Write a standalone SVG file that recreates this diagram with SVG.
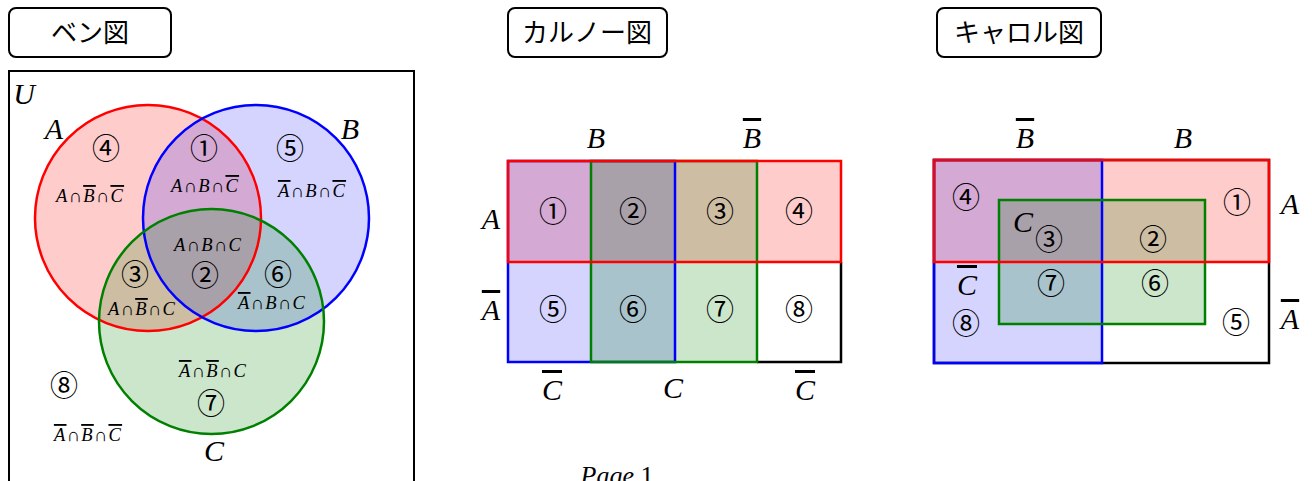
<svg xmlns="http://www.w3.org/2000/svg" width="1312" height="481" viewBox="0 0 1312 481">
<style>
.title{fill:#fff;stroke:#000;stroke-width:2}
.tt{font-family:"Noto Sans CJK JP",sans-serif;font-size:26px;text-anchor:middle;fill:#000}
.m{font-family:"Liberation Serif","DejaVu Serif",serif;font-style:italic;font-size:30px;text-anchor:middle;fill:#000}
.s{font-family:"Liberation Serif","DejaVu Serif",serif;font-style:italic;font-size:18.5px;letter-spacing:1.3px;text-anchor:middle;fill:#000}
.n{font-family:"Noto Sans CJK JP",sans-serif;font-size:28px;text-anchor:middle;fill:#000}
.ol{text-decoration:overline}
.fr{fill:#ff0000;fill-opacity:0.2}
.fb{fill:#0000ff;fill-opacity:0.17}
.fg{fill:#008000;fill-opacity:0.2}
.sr{fill:none;stroke:#ff0000;stroke-width:2.5}
.sb{fill:none;stroke:#0000ff;stroke-width:2.5}
.sg{fill:none;stroke:#008000;stroke-width:2.5}
.sk{fill:none;stroke:#000;stroke-width:2.5}
</style>
<g id="title-venn"><rect class="title" x="9" y="8" width="162" height="49" rx="7"/><text class="tt" x="90" y="42">ベン図</text></g>
<g id="title-karnaugh"><rect class="title" x="508" y="8" width="159" height="49" rx="7"/><text class="tt" x="587" y="42">カルノー図</text></g>
<g id="title-carroll"><rect class="title" x="937" y="8" width="164" height="49" rx="7"/><text class="tt" x="1019" y="42">キャロル図</text></g>

<g id="venn">
<rect x="9" y="71" width="405" height="420" fill="#fff" stroke="#000" stroke-width="2"/>
<circle class="fr" cx="148" cy="218" r="113"/>
<circle class="fb" cx="256" cy="218" r="113"/>
<circle class="fg" cx="211.5" cy="321.5" r="112.5"/>
<circle class="sr" cx="148" cy="218" r="113"/>
<circle class="sb" cx="256" cy="218" r="113"/>
<circle class="sg" cx="211.5" cy="321.5" r="112.5"/>
<text class="m" x="24" y="104">U</text>
<text class="m" x="54" y="139">A</text>
<text class="m" x="350" y="139">B</text>
<text class="m" x="214" y="461">C</text>
<text class="n" x="106" y="159">④</text>
<text class="n" x="204" y="159">①</text>
<text class="n" x="290" y="159">⑤</text>
<text class="n" x="135" y="285">③</text>
<text class="n" x="205" y="286">②</text>
<text class="n" x="278" y="285">⑥</text>
<text class="n" x="211" y="414">⑦</text>
<text class="n" x="64" y="396">⑧</text>
<text class="s" x="90" y="202">A∩<tspan class="ol">B</tspan>∩<tspan class="ol">C</tspan></text>
<text class="s" x="205" y="192">A∩B∩<tspan class="ol">C</tspan></text>
<text class="s" x="312" y="197"><tspan class="ol">A</tspan>∩B∩<tspan class="ol">C</tspan></text>
<text class="s" x="208" y="251">A∩B∩C</text>
<text class="s" x="142" y="315">A∩<tspan class="ol">B</tspan>∩C</text>
<text class="s" x="272" y="309"><tspan class="ol">A</tspan>∩B∩C</text>
<text class="s" x="213" y="377"><tspan class="ol">A</tspan>∩<tspan class="ol">B</tspan>∩C</text>
<text class="s" x="88" y="441"><tspan class="ol">A</tspan>∩<tspan class="ol">B</tspan>∩<tspan class="ol">C</tspan></text>
</g>

<g id="karnaugh">
<rect x="508" y="161" width="333" height="201" fill="#fff"/>
<rect class="fr" x="508" y="161" width="333" height="101"/>
<rect class="fb" x="508" y="161" width="167" height="201"/>
<rect class="fg" x="591" y="161" width="166" height="201"/>
<polyline class="sk" points="841,262 841,362 757,362"/>
<rect class="sb" x="508" y="161" width="167" height="201"/>
<rect class="sg" x="591" y="161" width="166" height="201"/>
<rect class="sr" x="508" y="161" width="333" height="101"/>
<text class="m" x="596" y="148">B</text>
<text class="m" x="752" y="148"><tspan class="ol">B</tspan></text>
<text class="m" x="491" y="229">A</text>
<text class="m" x="491" y="320"><tspan class="ol">A</tspan></text>
<text class="m" x="552" y="400"><tspan class="ol">C</tspan></text>
<text class="m" x="673" y="398">C</text>
<text class="m" x="805" y="400"><tspan class="ol">C</tspan></text>
<text class="n" x="553" y="222">①</text>
<text class="n" x="633" y="222">②</text>
<text class="n" x="720" y="222">③</text>
<text class="n" x="799" y="222">④</text>
<text class="n" x="553" y="320">⑤</text>
<text class="n" x="633" y="320">⑥</text>
<text class="n" x="720" y="320">⑦</text>
<text class="n" x="799" y="320">⑧</text>
</g>

<g id="carroll">
<rect x="934" y="160" width="335" height="203" fill="#fff"/>
<rect class="fr" x="934" y="160" width="335" height="102"/>
<rect class="fb" x="934" y="160" width="168" height="203"/>
<rect class="fg" x="999" y="200" width="206" height="124"/>
<rect class="sk" x="934" y="160" width="335" height="203"/>
<rect class="sb" x="934" y="160" width="168" height="203"/>
<rect class="sg" x="999" y="200" width="206" height="124"/>
<rect class="sr" x="934" y="160" width="335" height="102"/>
<text class="m" x="1025" y="148"><tspan class="ol">B</tspan></text>
<text class="m" x="1183" y="148">B</text>
<text class="m" x="1290" y="214">A</text>
<text class="m" x="1290" y="329"><tspan class="ol">A</tspan></text>
<text class="m" x="1023" y="232">C</text>
<text class="m" x="967" y="295"><tspan class="ol">C</tspan></text>
<text class="n" x="966" y="208">④</text>
<text class="n" x="1049" y="250">③</text>
<text class="n" x="1153" y="250">②</text>
<text class="n" x="1237" y="213">①</text>
<text class="n" x="1051" y="294">⑦</text>
<text class="n" x="1155" y="294">⑥</text>
<text class="n" x="966" y="334">⑧</text>
<text class="n" x="1236" y="333">⑤</text>
</g>

<text x="617" y="484" font-family="Liberation Serif,serif" font-size="26" text-anchor="middle"><tspan font-style="italic">Page</tspan> 1</text>
</svg>
